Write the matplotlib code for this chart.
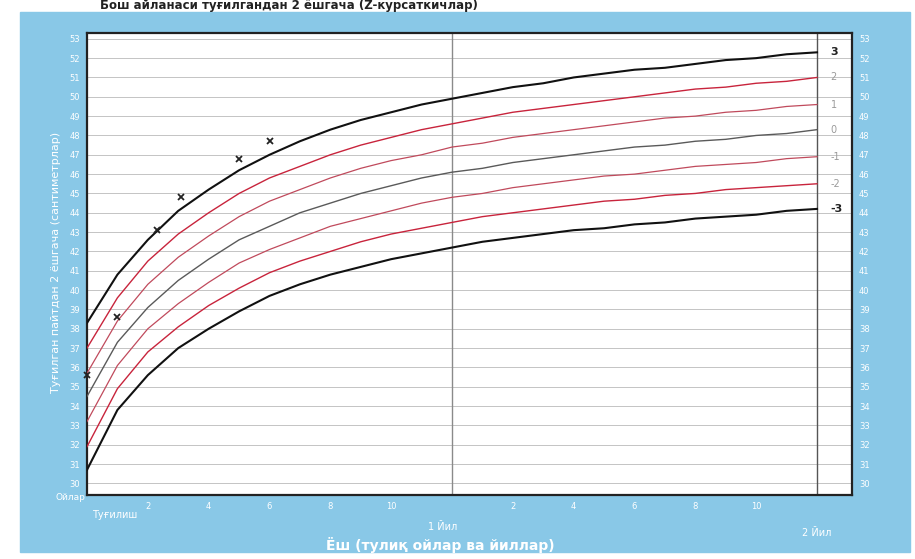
import matplotlib
matplotlib.use("Agg")
from matplotlib import pyplot as plt
from matplotlib.patches import Rectangle

# WHO head circumference, boys, birth to 2 years (cm), by z-score
months = list(range(0, 25))
z_minus3 = [30.7, 33.8, 35.6, 37.0, 38.0, 38.9, 39.7, 40.3, 40.8, 41.2, 41.6, 41.9, 42.2,
            42.5, 42.7, 42.9, 43.1, 43.2, 43.4, 43.5, 43.7, 43.8, 43.9, 44.1, 44.2]
z_minus2 = [31.9, 34.9, 36.8, 38.1, 39.2, 40.1, 40.9, 41.5, 42.0, 42.5, 42.9, 43.2, 43.5,
            43.8, 44.0, 44.2, 44.4, 44.6, 44.7, 44.9, 45.0, 45.2, 45.3, 45.4, 45.5]
z_minus1 = [33.2, 36.1, 38.0, 39.3, 40.4, 41.4, 42.1, 42.7, 43.3, 43.7, 44.1, 44.5, 44.8,
            45.0, 45.3, 45.5, 45.7, 45.9, 46.0, 46.2, 46.4, 46.5, 46.6, 46.8, 46.9]
z_0 = [34.5, 37.3, 39.1, 40.5, 41.6, 42.6, 43.3, 44.0, 44.5, 45.0, 45.4, 45.8, 46.1,
       46.3, 46.6, 46.8, 47.0, 47.2, 47.4, 47.5, 47.7, 47.8, 48.0, 48.1, 48.3]
z_plus1 = [35.7, 38.4, 40.3, 41.7, 42.8, 43.8, 44.6, 45.2, 45.8, 46.3, 46.7, 47.0, 47.4,
           47.6, 47.9, 48.1, 48.3, 48.5, 48.7, 48.9, 49.0, 49.2, 49.3, 49.5, 49.6]
z_plus2 = [37.0, 39.6, 41.5, 42.9, 44.0, 45.0, 45.8, 46.4, 47.0, 47.5, 47.9, 48.3, 48.6,
           48.9, 49.2, 49.4, 49.6, 49.8, 50.0, 50.2, 50.4, 50.5, 50.7, 50.8, 51.0]
z_plus3 = [38.3, 40.8, 42.6, 44.1, 45.2, 46.2, 47.0, 47.7, 48.3, 48.8, 49.2, 49.6, 49.9,
           50.2, 50.5, 50.7, 51.0, 51.2, 51.4, 51.5, 51.7, 51.9, 52.0, 52.2, 52.3]

# measurements marked on the chart
child_months = [0, 1.0, 2.3, 3.1, 5.0, 6.0]
child_cm = [35.6, 38.6, 43.1, 44.8, 46.8, 47.7]

z_labels = ["3", "2", "1", "0", "-1", "-2", "-3"]
x_tick_labels = ["", "2", "4", "6", "8", "10", "", "2", "4", "6", "8", "10", ""]
y_ticks = list(range(30, 54))

blue = "#89c8e7"

fig = plt.figure(figsize=(9.15, 5.59), dpi=100)
fig.patches.append(Rectangle((20 / 915, 1 - 552 / 559), 890 / 915, 540 / 559,
                             transform=fig.transFigure, color=blue, zorder=-10))
ax = fig.add_axes([87 / 915, 1 - 495 / 559, 765 / 915, 462 / 559])
ax.set_facecolor("white")

for y in y_ticks:
    ax.axhline(y, color="#c4c4c4", lw=0.7, zorder=1)
ax.axvline(12, color="#8a8a8a", lw=1.0, zorder=1)
ax.axvline(24, color="#555555", lw=1.0, zorder=1)

curves = [z_plus3, z_plus2, z_plus1, z_0, z_minus1, z_minus2, z_minus3]
colors = ["#111111", "#c8243c", "#c04a5c", "#5a5a5a", "#c04a5c", "#c8243c", "#111111"]
widths = [1.5, 1.0, 0.9, 1.0, 0.9, 1.0, 1.5]
for vals, c, w, lab in zip(curves, colors, widths, z_labels):
    ax.plot(months, vals, color=c, lw=w, zorder=3)
    bold = lab in ("3", "-3")
    ax.text(24.45, vals[-1], lab, fontsize=8 if bold else 7,
            fontweight="bold" if bold else "normal",
            color="#222222" if bold else "#9a9a9a", va="center", ha="left")

ax.plot(child_months, child_cm, "x", color="#222222", ms=4, mew=1.3, zorder=4,
        clip_on=False)

ax.set_xlim(0, 25.15)
ax.set_ylim(29.4, 53.3)
ax.set_xticks(list(range(0, 25, 2)))
ax.set_xticklabels(x_tick_labels)
ax.set_yticks(y_ticks)
ax.tick_params(axis="both", length=0, labelcolor="white", labelsize=6)
ax.tick_params(axis="y", labelright=True, pad=5)
ax.tick_params(axis="x", pad=5)
for s in ax.spines.values():
    s.set_color("#222222")
    s.set_linewidth(1.6)

fig.text(55 / 915, 1 - 498 / 559, "Ойлар", color="white", fontsize=6.5, va="center")
fig.text(92 / 915, 1 - 515 / 559, "Туғилиш", color="white", fontsize=7, va="center")
fig.text(443 / 915, 1 - 527 / 559, "1 Йил", color="white", fontsize=7, ha="center", va="center")
fig.text(817 / 915, 1 - 533 / 559, "2 Йил", color="white", fontsize=7, ha="center", va="center")
fig.text(440 / 915, 1 - 545 / 559, "Ёш (тулиқ ойлар ва йиллар)", color="white",
         fontsize=10, fontweight="bold", ha="center", va="center")
fig.text(56 / 915, 1 - 262 / 559, "Туғилган пайтдан 2 ёшгача (сантиметрлар)",
         color="white", fontsize=8, rotation=90, ha="center", va="center")
fig.text(100 / 915, 1 - 6 / 559, "Бош айланаси туғилгандан 2 ёшгача (Z-курсаткичлар)",
         color="#222222", fontsize=8.5, fontweight="bold", ha="left", va="center")

fig.savefig("out.png", dpi=100)
